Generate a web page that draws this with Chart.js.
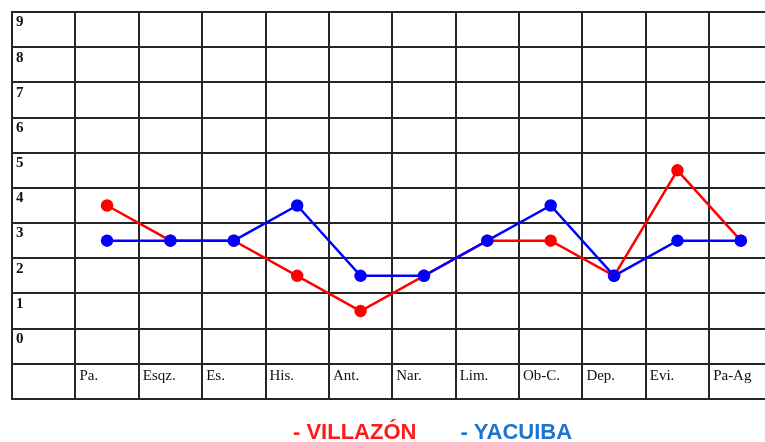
<!DOCTYPE html>
<html>
<head>
<meta charset="utf-8">
<script src="https://cdn.jsdelivr.net/npm/chart.js@4"></script>
<style>
  html, body { margin: 0; padding: 0; background: #fff; overflow: hidden; }
  #wrap { width: 780px; height: 442px; }
</style>
</head>
<body>
<div id="wrap"><canvas id="chart" width="780" height="442"></canvas></div>
<script>
// categories along the bottom row
const categories = ['Pa.', 'Esqz.', 'Es.', 'His.', 'Ant.', 'Nar.', 'Lim.', 'Ob-C.', 'Dep.', 'Evi.', 'Pa-Ag'];
// row labels of the grid (value of each row)
const rowLabels = ['0', '1', '2', '3', '4', '5', '6', '7', '8', '9'];
// series
const villazon = [4, 3, 3, 2, 1, 2, 3, 3, 2, 5, 3];
const yacuiba  = [3, 3, 3, 4, 2, 2, 3, 4, 2, 3, 3];
const seriesNames = ['VILLAZÓN', 'YACUIBA'];

const toPoints = arr => arr.map((v, i) => ({ x: i, y: v }));

// ── cell text + legend drawn on the grid ─────────────────────────
const cellText = {
    id: 'cellText',
    afterDraw(chart) {
        const { ctx, chartArea, scales } = chart;
        const xs = scales.x, ys = scales.y;
        ctx.save();
        ctx.textBaseline = 'top';
        ctx.textAlign = 'left';
        ctx.fillStyle = '#111';

        // row numbers in the first column
        ctx.font = 'bold 15px "Liberation Serif", serif';
        rowLabels.forEach((lbl, v) => {
            ctx.fillText(lbl, chartArea.left + 4, ys.getPixelForValue(v + 0.5) + 3);
        });

        // category names in the last row
        ctx.font = '15px "Liberation Serif", serif';
        const rowTop = ys.getPixelForValue(-0.5);
        categories.forEach((c, i) => {
            ctx.fillText(c, xs.getPixelForValue(i - 0.5) + 4, rowTop + 5);
        });

        // legend under the grid
        ctx.font = 'bold 22px "Liberation Sans", Arial, sans-serif';
        ctx.textBaseline = 'middle';
        const ly = chartArea.bottom + 34;
        let lx = chartArea.left + 281;
        const colors = ['#ff1a1a', '#1e73cf'];
        seriesNames.forEach((name, i) => {
            const txt = '- ' + name;
            ctx.fillStyle = colors[i];
            ctx.fillText(txt, lx, ly);
            lx += ctx.measureText(txt).width + 44;
        });
        ctx.restore();
    }
};

const gridColor = '#262626';

new Chart(document.getElementById('chart'), {
    type: 'line',
    data: {
        datasets: [
            {
                label: seriesNames[0],
                data: toPoints(villazon),
                borderColor: '#ff0000',
                backgroundColor: '#ff0000',
                borderWidth: 2.5,
                pointRadius: 5,
                pointHoverRadius: 5,
                tension: 0,
                order: 1
            },
            {
                label: seriesNames[1],
                data: toPoints(yacuiba),
                borderColor: '#0000ff',
                backgroundColor: '#0000ff',
                borderWidth: 2.5,
                pointRadius: 5,
                pointHoverRadius: 5,
                tension: 0,
                order: 0
            }
        ]
    },
    options: {
        responsive: false,
        animation: false,
        layout: { padding: { left: 12, top: 12, right: 7, bottom: 43 } },
        plugins: {
            legend: { display: false },
            tooltip: { enabled: false }
        },
        scales: {
            x: {
                type: 'linear',
                min: -1.5,
                max: 10.5,
                ticks: { display: false, stepSize: 1 },
                grid: { color: gridColor, lineWidth: 2, tickLength: 0, drawTicks: false },
                border: { display: true, color: gridColor, width: 2 }
            },
            y: {
                min: -1.5,
                max: 9.5,
                ticks: { display: false, stepSize: 1 },
                grid: { color: gridColor, lineWidth: 2, tickLength: 0, drawTicks: false },
                border: { display: true, color: gridColor, width: 2 }
            }
        }
    },
    plugins: [cellText]
});
</script>
</body>
</html>
